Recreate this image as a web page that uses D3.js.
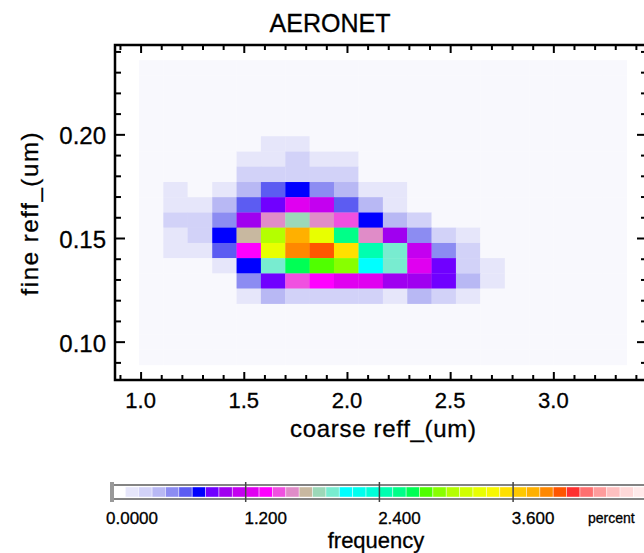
<!DOCTYPE html>
<html>
<head>
<meta charset="utf-8">
<script src="https://cdn.jsdelivr.net/npm/d3@7"></script>
<style>
  body { margin: 0; background: #fff; }
  text { font-family: "Liberation Sans", Arial, Helvetica, sans-serif; fill: #000; stroke: #000; stroke-width: 0.3px; }
</style>
</head>
<body>
<div id="chart"></div>
<script>
// bin edges of the 2D histogram
const xEdges = [0.992, 1.110, 1.228, 1.347, 1.465, 1.583, 1.701, 1.819, 1.937, 2.056, 2.174,
                2.292, 2.410, 2.528, 2.646, 2.765, 2.883, 3.001, 3.119, 3.237, 3.355];
const yEdges = [0.2358, 0.2285, 0.2211, 0.2138, 0.2064, 0.1991, 0.1917, 0.1844, 0.1770, 0.1697, 0.1623,
                0.1550, 0.1476, 0.1403, 0.1329, 0.1256, 0.1182, 0.1109, 0.1035, 0.0962, 0.0888];

// frequency (percent), rows from top (high fine reff) to bottom
const freq = [
  [0,0,0,0,0,0,0,0,0,0,0,0,0,0,0,0,0,0,0,0],
  [0,0,0,0,0,0,0,0,0,0,0,0,0,0,0,0,0,0,0,0],
  [0,0,0,0,0,0,0,0,0,0,0,0,0,0,0,0,0,0,0,0],
  [0,0,0,0,0,0,0,0,0,0,0,0,0,0,0,0,0,0,0,0],
  [0,0,0,0,0,0,0,0,0,0,0,0,0,0,0,0,0,0,0,0],
  [0,0,0,0,0,0.18,0.18,0,0,0,0,0,0,0,0,0,0,0,0,0],
  [0,0,0,0,0.18,0.18,0.30,0.18,0.18,0,0,0,0,0,0,0,0,0,0,0],
  [0,0,0,0,0.30,0.30,0.30,0.30,0.30,0,0,0,0,0,0,0,0,0,0,0],
  [0,0.18,0,0.18,0.42,0.66,0.78,0.54,0.42,0.18,0.18,0,0,0,0,0,0,0,0,0],
  [0,0.18,0.18,0.42,0.66,0.90,1.26,1.14,0.66,0.42,0.18,0,0,0,0,0,0,0,0,0],
  [0,0.30,0.30,0.54,1.02,1.62,1.86,1.62,1.50,0.78,0.42,0.30,0,0,0,0,0,0,0,0],
  [0,0.18,0.30,0.78,1.74,3.06,3.78,3.30,2.58,1.62,1.02,0.54,0.30,0.18,0,0,0,0,0,0],
  [0,0.18,0.18,0.66,1.38,3.30,3.90,4.02,3.54,2.46,1.98,1.14,0.54,0.30,0,0,0,0,0,0],
  [0,0,0,0.18,0.78,1.98,2.70,2.82,2.94,2.10,1.98,1.26,0.90,0.30,0.18,0,0,0,0,0],
  [0,0,0,0,0.54,0.90,1.50,1.38,1.26,1.26,1.02,1.02,0.90,0.42,0.18,0,0,0,0,0],
  [0,0,0,0,0.18,0.42,0.30,0.30,0.30,0.30,0.18,0.42,0.30,0.18,0,0,0,0,0,0],
  [0,0,0,0,0,0,0,0,0,0,0,0,0,0,0,0,0,0,0,0],
  [0,0,0,0,0,0,0,0,0,0,0,0,0,0,0,0,0,0,0,0],
  [0,0,0,0,0,0,0,0,0,0,0,0,0,0,0,0,0,0,0,0],
  [0,0,0,0,0,0,0,0,0,0,0,0,0,0,0,0,0,0,0,0]
];

const xTicks = [1.0, 1.5, 2.0, 2.5, 3.0];
const yTicks = [0.10, 0.15, 0.20];
const cbTicks = [0, 1.2, 2.4, 3.6];
const cbLabels = ["0.0000", "1.200", "2.400", "3.600"];

// colour table, one colour per 0.12 percent step
const levelColors = [
  "#f8f8fd", "#e6e6fa", "#d2d2f8", "#b8b8f4", "#8c8cf2", "#5c5cf2", "#0000ff", "#7000ff",
  "#a000f0", "#c400f0", "#e000f0", "#ff00ff", "#f050e0", "#e08cc8", "#c8b8a0", "#9cd8b8",
  "#78ecd0", "#00ffff", "#00ffee", "#00ffd8", "#00ffb0", "#00ff88", "#00ff55", "#50ff00",
  "#88ff00", "#b4ff00", "#d0ff00", "#e8ff00", "#f8f800", "#ffe000", "#ffc800", "#ffb000",
  "#ff8800", "#ff5500", "#ff3030", "#ff7070", "#ff9c9c", "#ffc0c0", "#ffd8d8", "#ffeaea"
];
const cbMax = 4.8;

const width = 644, height = 553;
const pLeft = 115, pRight = 646, pTop = 45, pBottom = 380;

const svg = d3.select("#chart").append("svg")
  .attr("width", width)
  .attr("height", height);

const x = d3.scaleLinear().domain([0.876, 3.449]).range([pLeft, pRight]);
const y = d3.scaleLinear().domain([0.0815, 0.2431]).range([pBottom, pTop]);
const color = d3.scaleQuantize().domain([0, cbMax]).range(levelColors);

// heatmap cells
const cells = [];
freq.forEach((row, r) => row.forEach((v, c) => cells.push({ r, c, v })));

svg.append("g").selectAll("rect")
  .data(cells)
  .enter().append("rect")
  .attr("x", d => x(xEdges[d.c]))
  .attr("y", d => y(yEdges[d.r]))
  .attr("width", d => x(xEdges[d.c + 1]) - x(xEdges[d.c]) + 0.3)
  .attr("height", d => y(yEdges[d.r + 1]) - y(yEdges[d.r]) + 0.3)
  .attr("fill", d => color(d.v));

// frame axes with IDL-like ticks on all four sides
const xMinor = d3.range(9, 35).map(i => i / 10);
const yMinor = d3.range(9, 25).map(i => i / 100);
const isMajorX = v => xTicks.some(t => Math.abs(t - v) < 1e-6);
const isMajorY = v => yTicks.some(t => Math.abs(t - v) < 1e-6);

const axisBottom = d3.axisBottom(x).tickValues(xMinor).tickSize(0).tickFormat("");
const axisTop = d3.axisTop(x).tickValues(xMinor).tickSize(0).tickFormat("");
const axisLeft = d3.axisLeft(y).tickValues(yMinor).tickSize(0).tickFormat("");
const axisRight = d3.axisRight(y).tickValues(yMinor).tickSize(0).tickFormat("");

function styleTicks(g, major, len, dir) {
  g.select(".domain").remove();
  g.selectAll(".tick line")
    .attr("stroke", "#000")
    .attr("stroke-width", 2)
    .each(function(d) {
      const l = major(d) ? len[0] : len[1];
      const sel = d3.select(this);
      if (dir === "x") sel.attr("y2", l);
      else sel.attr("x2", l);
    });
}

svg.append("g").attr("transform", `translate(0,${pBottom})`).call(axisBottom)
  .call(g => styleTicks(g, isMajorX, [-8, -5], "x"));
svg.append("g").attr("transform", `translate(0,${pTop})`).call(axisTop)
  .call(g => styleTicks(g, isMajorX, [8, 5], "x"));
svg.append("g").attr("transform", `translate(${pLeft},0)`).call(axisLeft)
  .call(g => styleTicks(g, isMajorY, [10, 6], "y"));
svg.append("g").attr("transform", `translate(${pRight},0)`).call(axisRight)
  .call(g => styleTicks(g, isMajorY, [-9, -5], "y"));

svg.append("rect")
  .attr("x", pLeft).attr("y", pTop)
  .attr("width", pRight - pLeft).attr("height", pBottom - pTop)
  .attr("fill", "none").attr("stroke", "#000").attr("stroke-width", 2.5);

// tick labels
svg.append("g").selectAll("text")
  .data(xTicks)
  .enter().append("text")
  .attr("x", d => x(d))
  .attr("y", 408)
  .attr("text-anchor", "middle")
  .attr("font-size", "22px")
  .text(d => d.toFixed(1));

svg.append("g").selectAll("text")
  .data(yTicks)
  .enter().append("text")
  .attr("x", 106)
  .attr("y", d => y(d) + 10)
  .attr("text-anchor", "end")
  .attr("font-size", "24px")
  .text(d => d.toFixed(2));

svg.append("text")
  .attr("x", 330).attr("y", 32)
  .attr("text-anchor", "middle")
  .attr("font-size", "25px")
  .text("AERONET");

svg.append("text")
  .attr("x", 383).attr("y", 437)
  .attr("text-anchor", "middle")
  .attr("font-size", "24px")
  .attr("textLength", 186)
  .text("coarse reff_(um)");

svg.append("text")
  .attr("transform", `translate(38,214) rotate(-90)`)
  .attr("text-anchor", "middle")
  .attr("font-size", "24px")
  .attr("textLength", 163)
  .text("fine reff_(um)");

// colour bar
const cb = d3.scaleLinear().domain([0, cbMax]).range([112, 112 + 133.7 * 4]);
const cbTop = 485, cbBottom = 499;
const step = cbMax / levelColors.length;

svg.append("g").selectAll("rect")
  .data(levelColors)
  .enter().append("rect")
  .attr("x", (d, i) => cb(i * step))
  .attr("y", cbTop + 2)
  .attr("width", cb(step) - cb(0))
  .attr("height", cbBottom - cbTop - 4)
  .attr("fill", (d, i) => i === 0 ? "#ffffff" : d)
  .attr("stroke", "#ffffff")
  .attr("stroke-opacity", 0.5)
  .attr("stroke-width", 0.8);

svg.append("rect")
  .attr("x", cb(0)).attr("y", cbTop)
  .attr("width", cb(cbMax) - cb(0)).attr("height", cbBottom - cbTop)
  .attr("fill", "none").attr("stroke", "#666").attr("stroke-width", 1.6);

svg.append("rect")
  .attr("x", cb(0) - 2).attr("y", cbTop - 3)
  .attr("width", 4).attr("height", cbBottom - cbTop + 6)
  .attr("fill", "#999");

svg.append("g").selectAll("line")
  .data(cbTicks.slice(1))
  .enter().append("line")
  .attr("x1", d => cb(d)).attr("x2", d => cb(d))
  .attr("y1", cbTop - 3).attr("y2", cbBottom + 3)
  .attr("stroke", "#444").attr("stroke-width", 1.5);

svg.append("g").selectAll("text")
  .data(cbTicks)
  .enter().append("text")
  .attr("x", d => cb(d) + 20)
  .attr("y", 524)
  .attr("text-anchor", "middle")
  .attr("font-size", "17px")
  .text((d, i) => cbLabels[i]);

svg.append("text")
  .attr("x", 588).attr("y", 523)
  .attr("font-size", "14px")
  .text("percent");

svg.append("text")
  .attr("x", 376).attr("y", 548)
  .attr("text-anchor", "middle")
  .attr("font-size", "22px")
  .text("frequency");
</script>
</body>
</html>
